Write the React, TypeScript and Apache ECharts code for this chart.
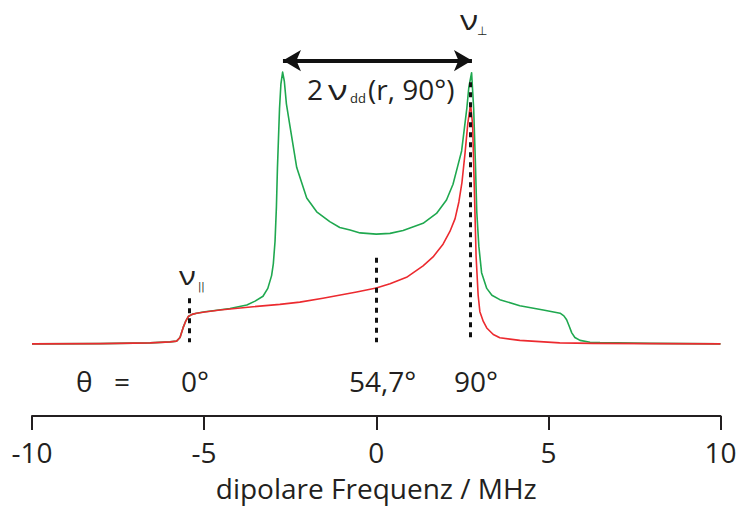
import React, { useEffect, useRef } from "react";
import * as echarts from "echarts";

// frequency (MHz), intensity (a.u.)
const redCurve: [number, number][] = [
  [-10, 0], [-8.02, 0.2], [-6.57, 1.0], [-5.99, 2.0], [-5.8, 2.8], [-5.7, 6.5],
  [-5.61, 16.5], [-5.53, 23.5], [-5.46, 27.8], [-5.35, 30], [-5.22, 31.2],
  [-4.98, 32.5], [-4.54, 34.5], [-3.58, 37.8], [-2.8, 40.2], [-2.22, 42.5],
  [-1.55, 46.5], [-0.57, 52.8], [0, 56.8], [0.4, 61.2], [0.88, 67.8],
  [1.36, 79.5], [1.65, 88.5], [1.94, 101.5], [2.14, 114.5], [2.29, 127.5],
  [2.4, 144.5], [2.49, 164.5], [2.58, 194.5], [2.66, 224.5], [2.74, 244.5],
  [2.8, 222.8], [2.85, 156.5], [2.9, 89.5], [2.96, 49.5], [3.01, 32.8],
  [3.11, 22.8], [3.21, 16.2], [3.4, 9.5], [3.59, 6.2], [4.17, 3.5],
  [5.33, 1.0], [6.29, 0.5], [10, 0],
];

const greenCurve: [number, number][] = [
  [-10, 0], [-8.02, 0.2], [-6.57, 1.0], [-5.99, 2.0], [-5.8, 2.8], [-5.7, 6.5],
  [-5.61, 16.5], [-5.53, 23.5], [-5.46, 27.8], [-5.35, 30], [-5.22, 31.2],
  [-4.98, 32.7], [-4.74, 33.7], [-4.25, 36], [-3.76, 39.5], [-3.52, 43.5],
  [-3.29, 48.5], [-3.15, 56.5], [-3.04, 69.5], [-2.99, 81.5], [-2.94, 104.5],
  [-2.9, 139.5], [-2.87, 179.5], [-2.84, 209.5], [-2.81, 239.5], [-2.77, 264.5],
  [-2.72, 276.8], [-2.67, 267.5], [-2.61, 244.5], [-2.51, 222.5], [-2.31, 179.5],
  [-2.02, 148.5], [-1.73, 134.5], [-1.35, 124.5], [-1.06, 118.5], [-0.76, 116],
  [-0.47, 113], [0, 111.8], [0.4, 112.5], [0.78, 115.5], [1.36, 122.8],
  [1.75, 132.8], [2.04, 146.5], [2.23, 162.5], [2.37, 181.5], [2.48, 196.5],
  [2.56, 219.5], [2.63, 239.5], [2.69, 261.5], [2.77, 276.2], [2.83, 239.5],
  [2.88, 184.5], [2.92, 134.5], [2.98, 99.5], [3.06, 72.5], [3.21, 56.5],
  [3.36, 49.5], [3.59, 45], [4.17, 38.8], [4.85, 34.5], [5.34, 31.2],
  [5.45, 28.5], [5.53, 24.5], [5.6, 18.5], [5.68, 11.2], [5.77, 6.5],
  [5.92, 3.5], [6.21, 1.7], [6.5, 1.2], [7.95, 0.5], [10, 0],
];

// dotted marker lines: position (MHz), bottom and top intensity
const markerX = [-5.44, 0, 2.72];
const markerBottom = [1.5, 1.5, 1.5];
const markerTop = [46.5, 87.8, 266.5];

// arrow 2 ν_dd(r, 90°)
const arrowFrom = -2.71;
const arrowTo = 2.78;
const arrowLevel = 288.5;

const xMin = -10;
const xMax = 10;
const xInterval = 5;

const FONT = "'Open Sans', sans-serif";
const SYM = "'DejaVu Sans', sans-serif";
const INK = "#231f20";

export default function App() {
  const ref = useRef<HTMLDivElement>(null);

  useEffect(() => {
    if (!ref.current) return;
    const chart = echarts.init(ref.current, undefined, { renderer: "svg" });

    const txt = (
      text: string,
      x: number,
      y: number,
      size = 28,
      family = FONT,
      scaleX = 1
    ) => ({
      type: "text",
      x,
      y,
      scaleX,
      silent: true,
      style: {
        text,
        fill: INK,
        fontSize: size,
        fontFamily: family,
        align: "left",
        verticalAlign: "middle",
      },
    });

    chart.setOption({
      animation: false,
      backgroundColor: "#ffffff",
      grid: { left: 32, right: 20.5, top: 40, bottom: 84 },
      xAxis: {
        type: "value",
        min: xMin,
        max: xMax,
        interval: xInterval,
        name: "dipolare Frequenz / MHz",
        nameLocation: "middle",
        nameGap: 58,
        nameTextStyle: { fontSize: 28, fontFamily: FONT, color: INK, lineHeight: 28 },
        axisLine: { onZero: false, lineStyle: { color: INK, width: 2 } },
        axisTick: { show: true, length: 14, lineStyle: { color: INK, width: 2 } },
        axisLabel: { fontSize: 28, fontFamily: FONT, color: INK, margin: 22, lineHeight: 28 },
        splitLine: { show: false },
      },
      yAxis: {
        type: "value",
        min: -73.5,
        max: 309.5,
        show: false,
        splitLine: { show: false },
      },
      series: [
        {
          type: "line",
          data: greenCurve,
          showSymbol: false,
          symbol: "none",
          lineStyle: { color: "#1fa84f", width: 1.6, join: "round" },
          z: 2,
          markLine: {
            silent: true,
            symbol: ["arrow", "arrow"],
            symbolSize: [16, 18],
            label: { show: false },
            lineStyle: { color: "#111111", width: 4, type: "solid" },
            data: [
              [
                { coord: [arrowFrom, arrowLevel] },
                { coord: [arrowTo, arrowLevel] },
              ],
            ],
          },
        },
        {
          type: "line",
          data: redCurve,
          showSymbol: false,
          symbol: "none",
          lineStyle: { color: "#ec2a2f", width: 1.6, join: "round" },
          z: 3,
          markLine: {
            silent: true,
            symbol: ["none", "none"],
            label: { show: false },
            lineStyle: { color: "#111111", width: 3, type: [5, 5] },
            data: markerX.map((x, i) => [
              { coord: [x, markerTop[i]] },
              { coord: [x, markerBottom[i]] },
            ]),
          },
        },
      ],
      graphic: [
        txt("2", 307, 89),
        txt("ν", 328, 89, 28, FONT, 1.3),
        txt("dd", 350, 98, 13),
        txt("(r, 90°)", 368, 89),
        txt("ν", 460, 19, 28, FONT, 1.2),
        txt("⊥", 477, 31, 12, SYM),
        txt("ν", 179, 275, 26, FONT, 1.2),
        txt("||", 198, 286, 10, SYM),
        txt("θ", 76, 381),
        txt("=", 114, 381),
        txt("0°", 181, 381),
        txt("54,7°", 349, 381),
        txt("90°", 454, 381),
      ],
    });

    return () => chart.dispose();
  }, []);

  return (
    <div
      ref={ref}
      style={{
        position: "fixed",
        left: 0,
        top: 0,
        width: 741,
        height: 507,
        background: "#fff",
      }}
    />
  );
}
